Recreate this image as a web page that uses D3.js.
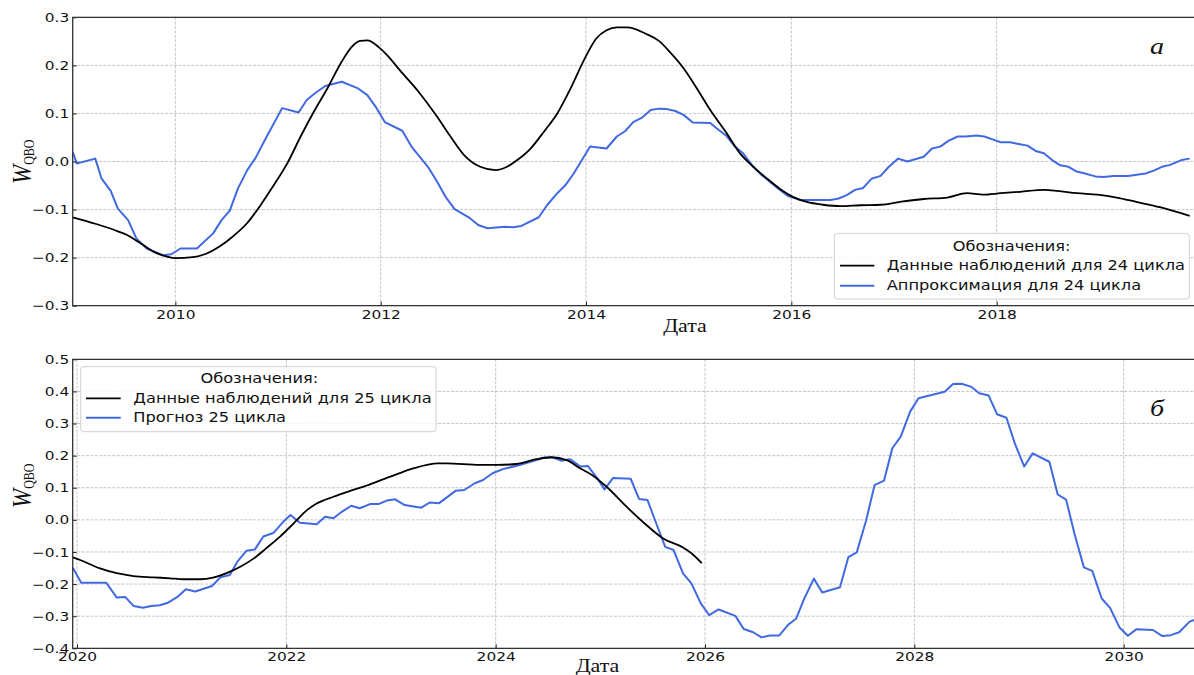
<!DOCTYPE html>
<html><head><meta charset="utf-8">
<script src="https://cdn.jsdelivr.net/npm/d3@7"></script>
<style>body{margin:0;background:#fff}svg{display:block}</style>
</head><body>
<svg id="chart" width="1194" height="675"></svg>
<script>
// ---------- DATA ----------
const topXTicks = [2010, 2012, 2014, 2016, 2018];
const topYTicks = [-0.3, -0.2, -0.1, 0.0, 0.1, 0.2, 0.3];
const botXTicks = [2020, 2022, 2024, 2026, 2028, 2030];
const botYTicks = [-0.4, -0.3, -0.2, -0.1, 0.0, 0.1, 0.2, 0.3, 0.4, 0.5];

const obs24 = [[2009.00,-0.116],[2009.23,-0.130],[2009.40,-0.142],[2009.53,-0.153],[2009.66,-0.170],[2009.79,-0.188],[2009.92,-0.198],[2010.00,-0.201],[2010.17,-0.199],[2010.30,-0.192],[2010.43,-0.177],[2010.56,-0.156],[2010.70,-0.128],[2010.82,-0.094],[2010.95,-0.052],[2011.09,-0.004],[2011.22,0.052],[2011.35,0.104],[2011.48,0.152],[2011.61,0.204],[2011.72,0.239],[2011.80,0.251],[2011.87,0.252],[2011.98,0.238],[2012.06,0.222],[2012.19,0.189],[2012.38,0.142],[2012.55,0.093],[2012.68,0.052],[2012.81,0.014],[2012.97,-0.011],[2013.12,-0.018],[2013.23,-0.011],[2013.33,0.003],[2013.46,0.027],[2013.59,0.062],[2013.72,0.100],[2013.85,0.152],[2013.98,0.211],[2014.10,0.256],[2014.20,0.273],[2014.30,0.279],[2014.40,0.279],[2014.59,0.265],[2014.71,0.251],[2014.82,0.227],[2014.95,0.194],[2015.08,0.152],[2015.21,0.107],[2015.37,0.059],[2015.50,0.017],[2015.63,-0.011],[2015.76,-0.035],[2015.89,-0.057],[2016.02,-0.074],[2016.15,-0.084],[2016.31,-0.090],[2016.48,-0.093],[2016.67,-0.091],[2016.87,-0.090],[2017.06,-0.084],[2017.29,-0.078],[2017.52,-0.075],[2017.71,-0.066],[2017.87,-0.069],[2018.04,-0.066],[2018.23,-0.063],[2018.46,-0.059],[2018.59,-0.061],[2018.78,-0.066],[2018.98,-0.069],[2019.17,-0.075],[2019.36,-0.084],[2019.59,-0.095],[2019.88,-0.113]];

const approx24 = [[2009.00,0.020],[2009.04,-0.004],[2009.22,0.006],[2009.28,-0.035],[2009.37,-0.061],[2009.44,-0.098],[2009.54,-0.122],[2009.62,-0.160],[2009.72,-0.181],[2009.88,-0.195],[2009.96,-0.193],[2010.05,-0.181],[2010.21,-0.181],[2010.37,-0.149],[2010.45,-0.122],[2010.53,-0.102],[2010.61,-0.056],[2010.70,-0.018],[2010.78,0.007],[2010.89,0.052],[2011.04,0.111],[2011.20,0.102],[2011.28,0.128],[2011.36,0.142],[2011.46,0.157],[2011.62,0.166],[2011.78,0.152],[2011.87,0.138],[2011.96,0.111],[2012.04,0.082],[2012.21,0.064],[2012.30,0.031],[2012.46,-0.011],[2012.55,-0.042],[2012.63,-0.073],[2012.72,-0.099],[2012.87,-0.118],[2012.95,-0.132],[2013.04,-0.139],[2013.21,-0.136],[2013.29,-0.137],[2013.37,-0.134],[2013.54,-0.116],[2013.62,-0.091],[2013.72,-0.066],[2013.80,-0.049],[2013.88,-0.025],[2013.96,0.003],[2014.04,0.031],[2014.20,0.027],[2014.30,0.052],[2014.38,0.063],[2014.46,0.082],[2014.55,0.092],[2014.63,0.107],[2014.71,0.110],[2014.79,0.109],[2014.87,0.105],[2014.95,0.097],[2015.04,0.081],[2015.21,0.080],[2015.29,0.066],[2015.37,0.053],[2015.45,0.031],[2015.53,0.017],[2015.63,-0.011],[2015.71,-0.028],[2015.79,-0.042],[2015.87,-0.056],[2015.97,-0.072],[2016.09,-0.080],[2016.38,-0.080],[2016.46,-0.077],[2016.54,-0.070],[2016.62,-0.059],[2016.70,-0.055],[2016.78,-0.036],[2016.87,-0.030],[2016.95,-0.011],[2017.04,0.006],[2017.13,0.000],[2017.29,0.010],[2017.37,0.027],[2017.45,0.031],[2017.53,0.043],[2017.62,0.052],[2017.70,0.052],[2017.80,0.054],[2017.88,0.052],[2017.96,0.046],[2018.04,0.040],[2018.13,0.040],[2018.20,0.037],[2018.30,0.033],[2018.38,0.022],[2018.46,0.017],[2018.54,0.003],[2018.62,-0.008],[2018.70,-0.011],[2018.78,-0.021],[2018.86,-0.025],[2018.96,-0.031],[2019.04,-0.032],[2019.14,-0.030],[2019.28,-0.030],[2019.45,-0.025],[2019.53,-0.019],[2019.61,-0.011],[2019.69,-0.007],[2019.80,0.003],[2019.88,0.006]];

const obs25 = [[2019.96,-0.117],[2020.03,-0.125],[2020.22,-0.151],[2020.38,-0.166],[2020.54,-0.175],[2020.73,-0.179],[2020.89,-0.182],[2021.02,-0.185],[2021.18,-0.185],[2021.30,-0.180],[2021.43,-0.166],[2021.56,-0.146],[2021.69,-0.120],[2021.81,-0.088],[2021.94,-0.052],[2022.07,-0.011],[2022.20,0.031],[2022.29,0.051],[2022.45,0.072],[2022.61,0.090],[2022.77,0.107],[2022.93,0.127],[2023.07,0.144],[2023.21,0.160],[2023.45,0.176],[2023.53,0.176],[2023.85,0.171],[2024.01,0.171],[2024.20,0.174],[2024.39,0.189],[2024.53,0.195],[2024.68,0.186],[2024.81,0.160],[2024.92,0.140],[2025.06,0.103],[2025.25,0.041],[2025.44,-0.016],[2025.60,-0.058],[2025.79,-0.086],[2025.87,-0.104],[2025.97,-0.135]];

const forecast25 = [[2019.96,-0.149],[2020.04,-0.196],[2020.28,-0.196],[2020.38,-0.242],[2020.46,-0.240],[2020.54,-0.268],[2020.63,-0.274],[2020.71,-0.268],[2020.79,-0.266],[2020.87,-0.258],[2020.96,-0.240],[2021.04,-0.216],[2021.13,-0.223],[2021.29,-0.206],[2021.37,-0.179],[2021.46,-0.172],[2021.53,-0.131],[2021.62,-0.096],[2021.70,-0.092],[2021.78,-0.052],[2021.88,-0.040],[2021.97,-0.006],[2022.04,0.015],[2022.13,-0.009],[2022.29,-0.014],[2022.37,0.010],[2022.45,0.005],[2022.53,0.025],[2022.62,0.044],[2022.70,0.036],[2022.80,0.049],[2022.88,0.049],[2022.96,0.060],[2023.04,0.064],[2023.13,0.046],[2023.29,0.038],[2023.37,0.054],[2023.46,0.052],[2023.62,0.091],[2023.70,0.093],[2023.80,0.114],[2023.88,0.124],[2023.97,0.145],[2024.07,0.158],[2024.23,0.171],[2024.39,0.186],[2024.47,0.194],[2024.55,0.194],[2024.63,0.184],[2024.71,0.189],[2024.81,0.166],[2024.88,0.168],[2024.97,0.130],[2025.04,0.095],[2025.12,0.130],[2025.29,0.128],[2025.37,0.065],[2025.45,0.062],[2025.54,-0.016],[2025.62,-0.084],[2025.70,-0.094],[2025.79,-0.167],[2025.87,-0.198],[2025.96,-0.260],[2026.04,-0.297],[2026.13,-0.279],[2026.29,-0.299],[2026.37,-0.340],[2026.46,-0.350],[2026.54,-0.366],[2026.62,-0.360],[2026.71,-0.360],[2026.80,-0.325],[2026.87,-0.308],[2026.95,-0.244],[2027.04,-0.183],[2027.12,-0.226],[2027.29,-0.210],[2027.37,-0.116],[2027.45,-0.101],[2027.54,-0.001],[2027.62,0.108],[2027.71,0.122],[2027.79,0.223],[2027.87,0.259],[2027.96,0.337],[2028.04,0.379],[2028.29,0.399],[2028.37,0.423],[2028.45,0.424],[2028.54,0.415],[2028.62,0.394],[2028.71,0.387],[2028.79,0.329],[2028.88,0.318],[2028.96,0.238],[2029.05,0.166],[2029.13,0.207],[2029.29,0.181],[2029.37,0.079],[2029.45,0.063],[2029.53,-0.043],[2029.62,-0.148],[2029.70,-0.159],[2029.79,-0.245],[2029.87,-0.274],[2029.96,-0.335],[2030.04,-0.361],[2030.12,-0.341],[2030.28,-0.343],[2030.37,-0.362],[2030.45,-0.359],[2030.53,-0.350],[2030.63,-0.317],[2030.70,-0.309]];

const legendTitle = "Обозначения:";
const topLegend = ["Данные наблюдений для 24 цикла", "Аппроксимация для 24 цикла"];
const botLegend = ["Данные наблюдений для 25 цикла", "Прогноз 25 цикла"];

// ---------- DRAW ----------
const SX = 1.22; // horizontal stretch of the reference raster
const svg = d3.select("#chart");
svg.append("rect").attr("width",1194).attr("height",675).attr("fill","#fff");
const BLUE = "#4169e1";

function stretchText(sel, x, y){ return sel.attr("x",0).attr("y",0).attr("transform",`translate(${x},${y}) scale(${SX},1)`); }

function panel(o){
  const x = d3.scaleLinear().domain(o.xDomain).range([o.left, o.right]);
  const y = d3.scaleLinear().domain(o.yDomain).range([o.bottom, o.top]);
  const g = svg.append("g");
  const clipId = "clip" + o.id;
  svg.append("clipPath").attr("id", clipId).append("rect")
    .attr("x", o.left).attr("y", o.top).attr("width", o.right - o.left).attr("height", o.bottom - o.top);
  // grid
  const grid = g.append("g").attr("stroke","#b8b8b8").attr("stroke-width",0.8).attr("stroke-dasharray","3,1.4");
  o.yTicks.forEach(v => grid.append("line").attr("x1",o.left).attr("x2",o.right).attr("y1",y(v)).attr("y2",y(v)));
  o.xTicks.forEach(v => grid.append("line").attr("x1",x(v)).attr("x2",x(v)).attr("y1",o.top).attr("y2",o.bottom));
  // lines
  const lineSmooth = d3.line().x(d=>x(d[0])).y(d=>y(d[1])).curve(d3.curveMonotoneX);
  const lineLin = d3.line().x(d=>x(d[0])).y(d=>y(d[1]));
  const lg = g.append("g").attr("clip-path",`url(#${clipId})`).attr("fill","none");
  lg.append("path").datum(o.blue).attr("d", lineLin).attr("stroke",BLUE).attr("stroke-width",2).attr("stroke-linejoin","round");
  lg.append("path").datum(o.black).attr("d", lineSmooth).attr("stroke","#000").attr("stroke-width",1.8);
  // axes
  const ax = g.append("g").attr("transform",`translate(0,${o.bottom})`)
    .call(d3.axisBottom(x).tickValues(o.xTicks).tickFormat(d3.format("d")).tickSize(-4).tickPadding(4));
  const ay = g.append("g").attr("transform",`translate(${o.left},0)`)
    .call(d3.axisLeft(y).tickValues(o.yTicks).tickFormat(d3.format(".1f")).tickSize(-4).tickPadding(3.5));
  [ax, ay].forEach(a => {
    a.select(".domain").remove();
    a.selectAll(".tick line").attr("stroke","#222").attr("stroke-width",1);
    a.selectAll("text").attr("font-family","DejaVu Sans").attr("font-size",12.6).attr("fill","#111");
  });
  ay.selectAll("text").each(function(){
    const t = d3.select(this); const xx = +t.attr("x");
    t.attr("x", xx/SX).attr("transform", `scale(${SX},1)`);
  });
  ax.selectAll("text").attr("transform", `scale(${SX},1)`);
  // spines
  g.append("path").attr("d",`M${o.left},${o.bottom}V${o.top}H${o.right}V${o.bottom}Z`)
    .attr("fill","none").attr("stroke","#333").attr("stroke-width",1.3);
  // x label
  stretchText(g.append("text"), o.xlabX, o.xlabY).attr("text-anchor","middle")
    .attr("font-family","Liberation Serif").attr("font-size",18).attr("fill","#111").text("Дата");
  // y label
  const yl = g.append("text").attr("transform",`translate(${o.ylabX},${o.ylabY}) scale(${SX},1) rotate(-90)`)
    .attr("font-family","Liberation Serif").attr("fill","#111");
  yl.append("tspan").attr("font-style","italic").attr("font-size",23).text("W");
  yl.append("tspan").attr("font-size",12).attr("dy",2.5).text("QBO");
  // panel letter
  stretchText(g.append("text"), o.letX, o.letY).attr("font-family","Liberation Serif").attr("font-style","italic")
    .attr("font-size",23).attr("fill","#111").text(o.letter);
  // legend
  const L = o.legend;
  g.append("rect").attr("x",L.x0).attr("y",L.y0).attr("width",L.x1-L.x0).attr("height",L.y1-L.y0)
    .attr("rx",3).attr("fill","#fff").attr("fill-opacity",0.85).attr("stroke","#d0d0d0").attr("stroke-width",1);
  stretchText(g.append("text"), L.titleX, L.titleY).attr("text-anchor","middle")
    .attr("font-family","DejaVu Sans").attr("font-size",13.3).attr("fill","#111").text(legendTitle);
  [["#000",1.8],[BLUE,2]].forEach((c,i) => {
    const ly = L.rows[i];
    g.append("line").attr("x1",L.lx0).attr("x2",L.lx1).attr("y1",ly).attr("y2",ly).attr("stroke",c[0]).attr("stroke-width",c[1]);
    stretchText(g.append("text"), L.tx, ly + 4.6).attr("font-family","DejaVu Sans").attr("font-size",13.3)
      .attr("fill","#111").text(o.labels[i]);
  });
}

panel({id:"a", left:72.7, right:1202, top:17.3, bottom:305.7,
  xDomain:[2009, 2020], yDomain:[-0.3, 0.3], xTicks:topXTicks, yTicks:topYTicks,
  black:obs24, blue:approx24, xlabX:685, xlabY:331.5, ylabX:31, ylabY:184,
  letX:1150, letY:54, letter:"а", labels:topLegend,
  legend:{x0:834.3, x1:1189.3, y0:233.3, y1:299, titleX:1011.7, titleY:250.5, rows:[265.7,285.7], lx0:840, lx1:874.3, tx:886.7}});

panel({id:"b", left:72.7, right:1207.4, top:359.3, bottom:648.3,
  xDomain:[2019.959, 2030.8], yDomain:[-0.4, 0.5], xTicks:botXTicks, yTicks:botYTicks,
  black:obs25, blue:forecast25, xlabX:597.5, xlabY:671.5, ylabX:31, ylabY:508,
  letX:1150, letY:416, letter:"б", labels:botLegend,
  legend:{x0:80.7, x1:436, y0:366.7, y1:431.7, titleX:259.3, titleY:383.3, rows:[398.3,417.7], lx0:86, lx1:120.7, tx:133.3}});
</script>
</body></html>
